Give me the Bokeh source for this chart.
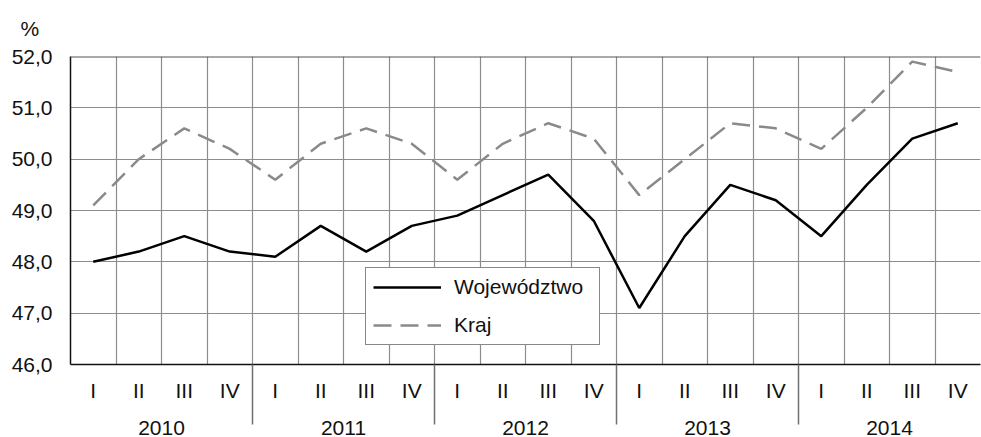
from bokeh.plotting import figure
from bokeh.models import (FixedTicker, LinearAxis, Span, Legend, LegendItem, ColumnDataSource)
from bokeh.embed import file_html
from bokeh.resources import INLINE

quarters = ["I", "II", "III", "IV"]
years = ["2010", "2011", "2012", "2013", "2014"]
wojewodztwo = [48.0, 48.2, 48.5, 48.2, 48.1, 48.7, 48.2, 48.7, 48.9, 49.3,
               49.7, 48.8, 47.1, 48.5, 49.5, 49.2, 48.5, 49.5, 50.4, 50.7]
kraj = [49.1, 50.0, 50.6, 50.2, 49.6, 50.3, 50.6, 50.3, 49.6, 50.3,
        50.7, 50.4, 49.3, 50.0, 50.7, 50.6, 50.2, 51.0, 51.9, 51.7]
y_ticks = [46, 47, 48, 49, 50, 51, 52]
y_labels = ["46,0", "47,0", "48,0", "49,0", "50,0", "51,0", "52,0"]
unit_label = "%"

n = len(years) * len(quarters)
xs = [i + 0.5 for i in range(n)]
q_labels = [quarters[i % 4] for i in range(n)]

FONT = "Liberation Sans"
FS = "21px"
GRID = "#8c8c8c"
TXT = "#111111"

p = figure(width=981, height=437, x_range=(0, n), y_range=(46, 52),
           output_backend="svg", toolbar_location=None, x_axis_location=None,
           min_border_left=70, min_border_top=56, min_border_right=1,
           min_border_bottom=72)
p.outline_line_color = None
p.background_fill_color = "white"
p.border_fill_color = "white"

p.title.text = unit_label
p.title.text_font = FONT
p.title.text_font_size = FS
p.title.text_font_style = "normal"
p.title.offset = -50
p.title.standoff = 30
p.title.vertical_align = "top"
p.title.text_line_height = 1.0
p.title.text_color = TXT

# y axis
p.yaxis.ticker = FixedTicker(ticks=y_ticks)
p.yaxis.major_label_overrides = {t: l for t, l in zip(y_ticks, y_labels)}
p.yaxis.major_label_text_font = FONT
p.yaxis.major_label_text_font_size = FS
p.yaxis.major_label_text_color = TXT
p.yaxis.major_tick_out = 0
p.yaxis.major_tick_in = 0
p.yaxis.minor_tick_out = 0
p.yaxis.minor_tick_in = 0
p.yaxis.major_label_standoff = 18
p.yaxis.axis_line_color = TXT
p.yaxis.axis_line_width = 1.5

# quarter axis (year separators drawn as minor ticks)
qax = LinearAxis(ticker=FixedTicker(ticks=xs, minor_ticks=[4, 8, 12, 16]))
qax.major_label_overrides = {x: l for x, l in zip(xs, q_labels)}
qax.major_label_text_font = FONT
qax.major_label_text_font_size = FS
qax.major_label_text_color = TXT
qax.major_tick_out = 0
qax.major_tick_in = 0
qax.minor_tick_out = 60
qax.minor_tick_in = 0
qax.minor_tick_line_color = "#707070"
qax.minor_tick_line_width = 1.5
qax.major_label_standoff = -46
qax.axis_line_color = TXT
qax.axis_line_width = 1.5
p.add_layout(qax, "below")

# year axis
centers = [4 * k + 2 for k in range(len(years))]
yax = LinearAxis(ticker=FixedTicker(ticks=centers))
yax.major_label_overrides = {c: y for c, y in zip(centers, years)}
yax.major_label_text_font = FONT
yax.major_label_text_font_size = FS
yax.major_label_text_color = TXT
yax.major_tick_out = 0
yax.major_tick_in = 0
yax.minor_tick_out = 0
yax.minor_tick_in = 0
yax.axis_line_color = None
yax.major_label_standoff = 16
p.add_layout(yax, "below")

# grids
p.ygrid.ticker = FixedTicker(ticks=[47, 48, 49, 50, 51])
p.ygrid.grid_line_color = GRID
p.ygrid.grid_line_width = 1.2
p.xgrid.ticker = FixedTicker(ticks=list(range(1, n)))
p.xgrid.grid_line_color = GRID
p.xgrid.grid_line_width = 1.2

p.add_layout(Span(location=52, dimension="width", line_color="#555555", line_width=2))

src = ColumnDataSource(dict(x=xs, w=wojewodztwo, k=kraj))
rw = p.line("x", "w", source=src, line_color="black", line_width=2.5)
rk = p.line("x", "k", source=src, line_color="#8a8a8a", line_width=2.5,
            line_dash="18 9")

legend = Legend(items=[LegendItem(label="Województwo", renderers=[rw]),
                       LegendItem(label="Kraj", renderers=[rk])],
                location=(295, 19))
legend.label_text_font = FONT
legend.label_text_font_size = FS
legend.label_text_color = TXT
legend.glyph_width = 68
legend.glyph_height = 22
legend.label_height = 22
legend.label_width = 138
legend.label_standoff = 13
legend.spacing = 14
legend.padding = 7
legend.margin = 0
legend.border_line_color = TXT
legend.border_line_width = 1.2
legend.background_fill_alpha = 1
p.add_layout(legend, "center")

open("out.html", "w").write(file_html(p, INLINE))
